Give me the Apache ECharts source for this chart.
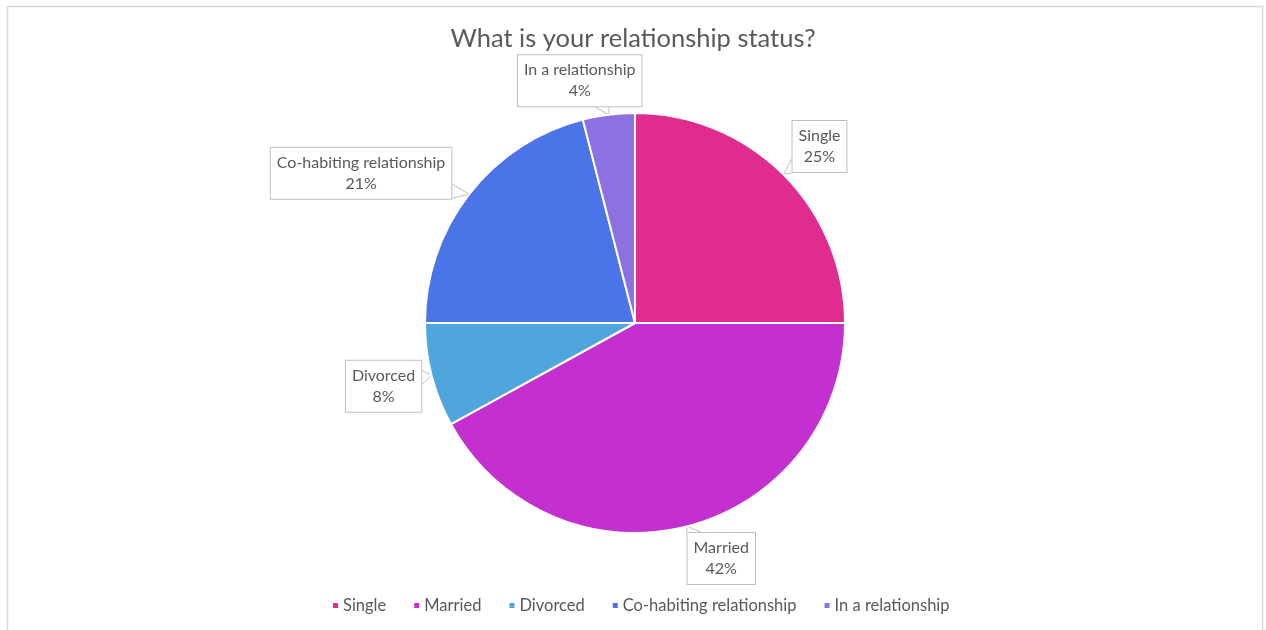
<!DOCTYPE html>
<html>
<head>
<meta charset="utf-8">
<style>
  html, body { margin: 0; padding: 0; background: #ffffff; }
  #chart { width: 1266px; height: 630px; }
</style>
<script src="https://cdn.jsdelivr.net/npm/echarts@6/dist/echarts.min.js"></script>
</head>
<body>
<div id="chart"></div>
<script>
// Survey answers
const categories = ['Single', 'Married', 'Divorced', 'Co-habiting relationship', 'In a relationship'];
const shares = [25, 42, 8, 21, 4];
const colors = ['#E02C8E', '#C430CF', '#4FA6DC', '#4A74E8', '#8E71E0'];

// Offset of each callout box centre from the point where its tail touches the pie
const calloutOffsets = [[36, -28], [34, 32], [-48, 11], [-108, -21], [-29, -34]];

const FONT = 'Lato, "Liberation Sans", sans-serif';
const TEXT = '#595959';

const chart = echarts.init(document.getElementById('chart'), null, { renderer: 'canvas' });

function callout(params) {
  const tip = params.labelLinePoints[0];
  const off = calloutOffsets[params.dataIndex];
  const cx = tip[0] + off[0];
  const cy = tip[1] + off[1];
  const w = params.labelRect.width;
  const h = params.labelRect.height;
  // where the line from box centre to the tip leaves the box
  const vx = tip[0] - cx, vy = tip[1] - cy;
  const sx = (w / 2) / Math.abs(vx || 1e-6);
  const sy = (h / 2) / Math.abs(vy || 1e-6);
  let a, b;
  const n = 7;
  if (sx < sy) {
    const ex = cx + Math.sign(vx) * w / 2;
    let ey = cy + vy * sx;
    ey = Math.max(cy - h / 2 + n, Math.min(cy + h / 2 - n, ey));
    a = [ex, ey - n]; b = [ex, ey + n];
  } else {
    const ey = cy + Math.sign(vy) * h / 2;
    let ex = cx + vx * sy;
    ex = Math.max(cx - w / 2 + n, Math.min(cx + w / 2 - n, ex));
    a = [ex - n, ey]; b = [ex + n, ey];
  }
  return {
    x: cx,
    y: cy,
    align: 'center',
    verticalAlign: 'middle',
    labelLinePoints: [a, [tip[0], tip[1]], b]
  };
}

chart.setOption({
  backgroundColor: '#ffffff',
  animation: false,
  color: colors,
  title: {
    text: 'What is your relationship status?',
    left: 'center',
    top: 21,
    textStyle: { fontFamily: FONT, fontSize: 25.5, fontWeight: 'normal', color: TEXT }
  },
  legend: {
    bottom: 11,
    left: 326,
    icon: 'rect',
    itemWidth: 7,
    itemHeight: 7,
    itemGap: 26,
    textStyle: { fontFamily: FONT, fontSize: 16.5, color: TEXT, padding: [0, 0, 0, -1] },
    data: categories
  },
  graphic: [{
    type: 'rect',
    shape: { x: 7.5, y: 6.5, width: 1255, height: 660 },
    style: { fill: 'none', stroke: '#d9d9d9', lineWidth: 1.5 },
    silent: true,
    z: -1
  }],
  series: [{
    type: 'pie',
    center: [635, 323],
    radius: [0, 210],
    startAngle: 90,
    clockwise: true,
    itemStyle: { borderColor: '#ffffff', borderWidth: 2 },
    label: {
      show: true,
      position: 'outside',
      formatter: '{b}\n{d}%',
      fontFamily: FONT,
      fontSize: 16,
      lineHeight: 21,
      color: TEXT,
      align: 'center',
      backgroundColor: '#ffffff',
      borderColor: '#bfbfbf',
      borderWidth: 1,
      padding: [5, 6, 4, 6]
    },
    labelLine: {
      show: true,
      length: 10,
      length2: 10,
      lineStyle: { color: '#bfbfbf', width: 1 }
    },
    labelLayout: callout,
    emphasis: { disabled: true },
    data: categories.map((name, i) => ({ name: name, value: shares[i] }))
  }]
});
</script>
</body>
</html>
